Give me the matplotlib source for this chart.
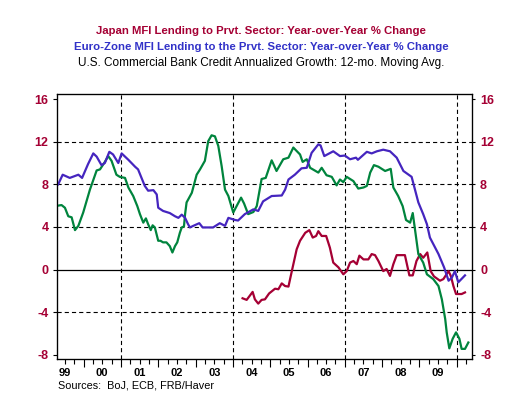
import numpy as np
import matplotlib
matplotlib.use("Agg")
import matplotlib.pyplot as plt
import matplotlib.transforms as mtransforms

plt.rcParams['font.family'] = ['Liberation Sans', 'DejaVu Sans']
plt.rcParams['axes.unicode_minus'] = False
plt.rcParams['lines.scale_dashes'] = False

# time in decimal years, values in %
us_t = [1999.32, 1999.41, 1999.50, 1999.59, 1999.68, 1999.77, 1999.86, 1999.99,
        2000.17, 2000.35, 2000.44, 2000.57, 2000.66, 2000.75, 2000.88, 2000.97,
        2001.11, 2001.20, 2001.33, 2001.44, 2001.51, 2001.60, 2001.67, 2001.73,
        2001.80, 2001.85, 2001.91, 2002.00, 2002.06, 2002.13, 2002.22, 2002.31,
        2002.38, 2002.45, 2002.51, 2002.58, 2002.63, 2002.69, 2002.72, 2002.76,
        2002.90, 2003.03, 2003.12, 2003.25, 2003.34, 2003.43, 2003.52, 2003.61,
        2003.70, 2003.79, 2003.88, 2004.01, 2004.10, 2004.22, 2004.30, 2004.41,
        2004.55, 2004.64, 2004.77, 2004.88, 2005.04, 2005.17, 2005.35, 2005.49,
        2005.62, 2005.80, 2005.87, 2005.98, 2006.07, 2006.29, 2006.38, 2006.51,
        2006.65, 2006.78, 2006.87, 2006.96, 2007.05, 2007.23, 2007.36, 2007.50,
        2007.59, 2007.68, 2007.78, 2007.90, 2008.08, 2008.23, 2008.30, 2008.43,
        2008.55, 2008.64, 2008.75, 2008.82, 2008.91, 2008.97, 2009.10, 2009.20,
        2009.37, 2009.51, 2009.60, 2009.69, 2009.73, 2009.80, 2009.89, 2009.98,
        2010.07, 2010.13, 2010.22, 2010.31]
us_v = [6.0, 6.05, 5.8, 5.0, 4.9, 3.7, 4.1, 5.35,
        7.5, 9.3, 9.4, 10.1, 10.65, 10.2, 8.9, 8.7,
        8.6, 7.7, 6.9, 5.95, 5.2, 4.4, 4.8, 4.25,
        3.7, 4.15, 3.95, 2.7, 2.7, 2.55, 2.55, 2.2,
        1.6, 2.2, 2.55, 3.45, 3.95, 4.05, 5.2, 6.3,
        7.2, 8.9, 9.4, 10.2, 12.05, 12.6, 12.5, 11.6,
        9.7, 7.5, 6.9, 5.35, 5.95, 6.75, 6.2, 5.2,
        5.4, 5.95, 8.5, 8.6, 10.25, 9.25, 10.35, 10.5,
        11.45, 10.8, 10.1, 10.35, 9.55, 9.1, 9.55, 8.85,
        8.7, 7.9, 8.45, 8.2, 8.7, 8.3, 7.6, 7.7,
        7.85, 9.1, 9.8, 9.65, 9.25, 9.45, 7.7, 6.9,
        5.95, 4.65, 4.4, 5.3, 3.0, 1.45, 0.65, -0.45,
        -0.9, -1.55, -2.8, -4.65, -5.9, -7.4, -6.5, -5.9,
        -6.5, -7.45, -7.45, -6.85]

ez_t = [1999.32, 1999.44, 1999.63, 1999.86, 1999.96, 2000.12, 2000.26, 2000.35,
        2000.48, 2000.57, 2000.69, 2000.79, 2000.93, 2001.02, 2001.20, 2001.38,
        2001.46, 2001.64, 2001.73, 2001.87, 2001.96, 2002.00, 2002.13, 2002.31,
        2002.45, 2002.54, 2002.63, 2002.72, 2002.80, 2002.85, 2002.94, 2003.10,
        2003.19, 2003.39, 2003.47, 2003.65, 2003.79, 2003.88, 2004.06, 2004.14,
        2004.32, 2004.55, 2004.68, 2004.81, 2005.04, 2005.31, 2005.40, 2005.49,
        2005.66, 2005.84, 2005.98, 2006.11, 2006.29, 2006.35, 2006.45, 2006.69,
        2006.87, 2007.00, 2007.14, 2007.30, 2007.35, 2007.59, 2007.72, 2007.86,
        2008.03, 2008.21, 2008.39, 2008.57, 2008.79, 2008.88, 2008.97, 2009.10,
        2009.20, 2009.28, 2009.51, 2009.66, 2009.78, 2009.87, 2009.95, 2010.04,
        2010.22]
ez_v = [8.0, 8.9, 8.6, 8.9, 8.6, 9.9, 10.9, 10.6,
        9.8, 10.0, 11.05, 10.8, 10.0, 10.9, 10.3, 9.65,
        9.4, 7.85, 7.4, 7.45, 7.05, 5.8, 5.5, 5.3,
        5.0, 4.85, 5.15, 4.85, 4.25, 3.95, 4.1, 4.35,
        3.95, 3.95, 3.95, 4.35, 4.1, 4.85, 4.65, 4.6,
        5.2, 5.65, 5.5, 6.4, 6.9, 6.95, 7.5, 8.45,
        8.9, 9.5, 9.55, 10.95, 11.75, 11.65, 10.65, 11.1,
        10.65, 10.7, 10.35, 10.5, 10.3, 11.05, 10.9, 11.1,
        11.25, 11.1, 10.5, 9.25, 8.7, 7.5, 6.3, 5.2,
        4.25, 3.0, 1.45, 0.2, -1.05, -0.75, -0.15, -1.2,
        -0.55]

jp_t = [2004.26, 2004.37, 2004.53, 2004.59, 2004.68, 2004.77, 2004.86, 2004.97,
        2005.13, 2005.22, 2005.31, 2005.40, 2005.49, 2005.58, 2005.71, 2005.80,
        2005.94, 2006.05, 2006.14, 2006.23, 2006.29, 2006.38, 2006.50, 2006.60,
        2006.69, 2006.83, 2006.96, 2007.05, 2007.14, 2007.23, 2007.32, 2007.39,
        2007.50, 2007.63, 2007.72, 2007.81, 2007.90, 2008.03, 2008.12, 2008.21,
        2008.30, 2008.39, 2008.61, 2008.73, 2008.82, 2008.92, 2009.02, 2009.10,
        2009.21, 2009.30, 2009.39, 2009.55, 2009.64, 2009.78, 2009.84, 2009.91,
        2009.98, 2010.13, 2010.22]
jp_v = [-2.7, -2.85, -2.1, -2.8, -3.2, -2.85, -2.8, -2.25,
        -1.8, -1.85, -1.3, -1.55, -1.6, -0.15, 1.9, 2.7,
        3.45, 3.7, 3.0, 3.15, 3.6, 3.15, 3.15, 2.05,
        0.65, 0.2, -0.45, -0.15, 0.65, 0.8, 0.5, 1.3,
        0.95, 0.95, 1.45, 1.35, 0.8, -0.15, 0.05, -0.6,
        0.5, 1.35, 1.35, -0.55, -0.55, 0.8, 1.45, 1.1,
        1.6, -0.15, -0.65, -1.05, -0.9, -0.15, -0.6, -1.55,
        -2.3, -2.3, -2.15]

yticks = [-8, -4, 0, 4, 8, 12, 16]
years = list(range(1999, 2010))

RED = '#A50034'
BLUE = '#4525BF'
GREEN = '#00843D'

fig = plt.figure(figsize=(5.29, 3.97), dpi=100)
ax = fig.add_axes([0.1072, 0.0957, 0.7845, 0.6668])

x0, x1 = 1999.28, 2010.40
ax.set_xlim(x0, x1)
ax.set_ylim(-8.4, 16.45)

# grid
for g in [-4, 4, 8, 12]:
    ax.axhline(g, color='black', lw=0.8, ls=(0, (3, 2.2)), zorder=1)
for vx in [2001, 2004, 2007, 2010]:
    ax.axvline(vx, color='black', lw=0.8, ls=(0, (3, 2.2)), zorder=1)
ax.axhline(0, color='black', lw=0.9, zorder=1)

ax.plot(jp_t, jp_v, color=RED, lw=1.6, zorder=3)
ax.plot(us_t, us_v, color=GREEN, lw=1.6, zorder=3)
ax.plot(ez_t, ez_v, color=BLUE, lw=1.6, zorder=3)

for s in ax.spines.values():
    s.set_linewidth(0.9)

# y axis both sides
ax.set_yticks(yticks)
ax.set_yticklabels([str(v) for v in yticks])
ax.tick_params(axis='y', direction='out', length=3, width=0.8, pad=3,
               labelsize=9, labelcolor=RED)
for lab in ax.get_yticklabels():
    lab.set_fontweight('bold')
ax2 = ax.twinx()
ax2.set_ylim(ax.get_ylim())
ax2.set_yticks(yticks)
ax2.set_yticklabels([str(v) for v in yticks])
ax2.tick_params(axis='y', direction='out', length=2, width=0.8, pad=4,
                labelsize=9, labelcolor=RED)
for lab in ax2.get_yticklabels():
    lab.set_fontweight('bold')

# x axis: year ticks long, quarter ticks short, labels centred in year
ax.set_xticks(np.arange(2000, 2011))
ax.set_xticklabels([])
ax.set_xticks(np.arange(1999.5, 2010.3, 0.25), minor=True)
ax.tick_params(axis='x', which='major', direction='out', length=6, width=0.8)
ax.tick_params(axis='x', which='minor', direction='out', length=3.5, width=0.8)
trans = mtransforms.blended_transform_factory(ax.transData, fig.transFigure)
for yr in years:
    ax.text(yr + 0.5, 1 - 373.5 / 397, '%02d' % (yr % 100), transform=trans,
            ha='center', va='center', fontsize=8, fontweight='bold')

fig.text(0.494, 1 - 31 / 397, 'Japan MFI Lending to Prvt. Sector: Year-over-Year % Change',
         ha='center', va='center', fontsize=8.2, fontweight='bold', color=RED)
fig.text(0.494, 1 - 47 / 397, 'Euro-Zone MFI Lending to the Prvt. Sector: Year-over-Year % Change',
         ha='center', va='center', fontsize=8.2, fontweight='bold', color='#3232C8')
fig.text(0.494, 1 - 63 / 397, 'U.S. Commercial Bank Credit Annualized Growth: 12-mo. Moving Avg.',
         ha='center', va='center', fontsize=8.5, color='black')
fig.text(58 / 529, 1 - 385 / 397, 'Sources:  BoJ, ECB, FRB/Haver',
         ha='left', va='center', fontsize=7.8)

fig.savefig('out.png', dpi=100)
